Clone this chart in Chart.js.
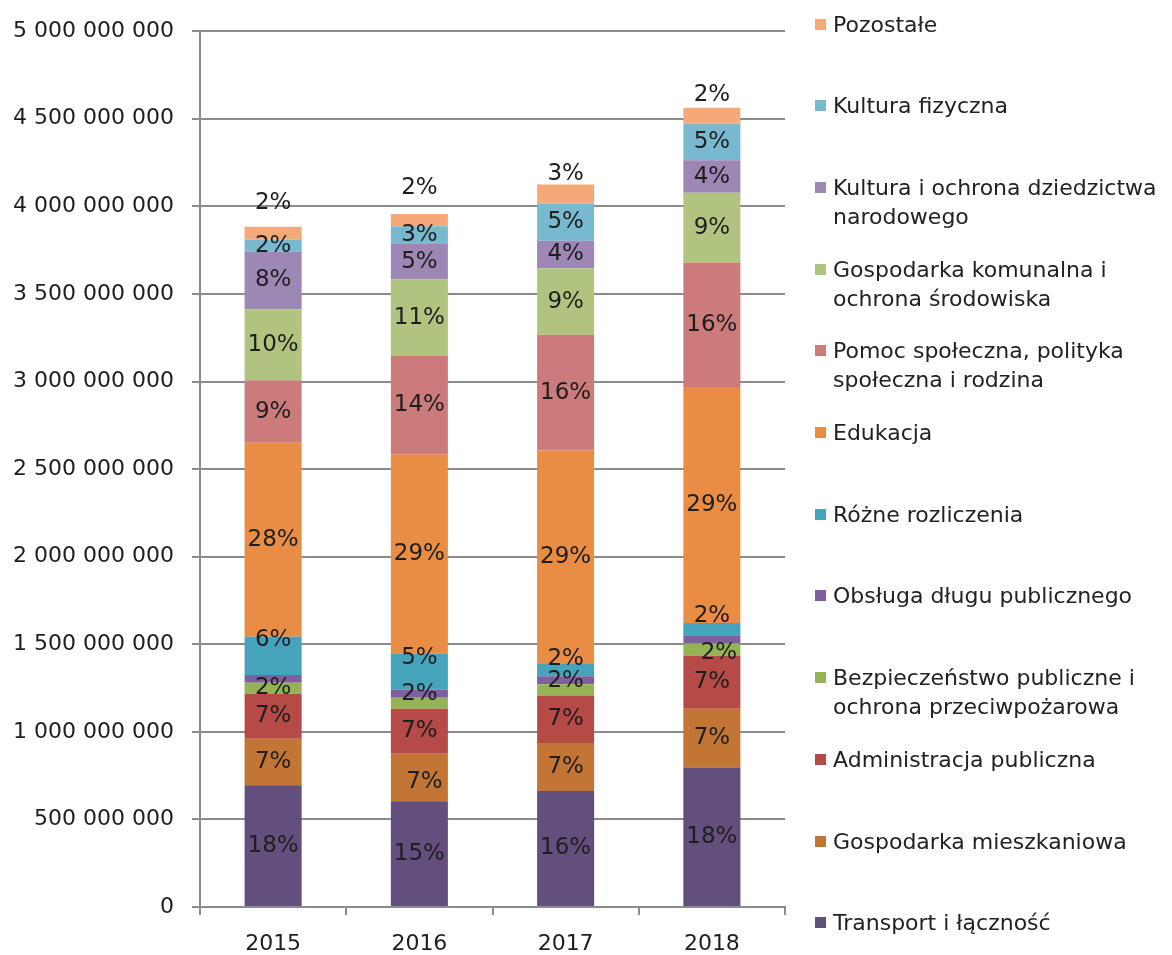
<!DOCTYPE html>
<html>
<head>
<meta charset="utf-8">
<script src="https://cdn.jsdelivr.net/npm/chart.js@4"></script>
<style>
  body { margin: 0; background: #fff; }
  #wrap { position: relative; width: 1172px; height: 955px; }
  #legend { position: absolute; left: 0; top: 0; font-family: "DejaVu Sans", sans-serif; font-size: 22px; color: #222; }
  .item { position: absolute; left: 815px; width: 360px; line-height: 29px; }
  .box { position: absolute; left: 0; top: 9px; width: 11px; height: 11px; }
  .txt { position: absolute; left: 18px; top: 0; white-space: nowrap; }
</style>
</head>
<body>
<div id="wrap">
  <canvas id="myChartBudget" width="1172" height="955"></canvas>
  <div id="legend"></div>
</div>
<script>
// years
const years = ["2015", "2016", "2017", "2018"];

// values in mln zł (bottom -> top of the stack)
const transport = [695, 604, 662, 796];
const gospMieszkaniowa = [266, 271, 274, 336];
const administracja = [256, 257, 271, 303];
const bezpieczenstwo = [63, 63, 65, 70];
const obslugaDlugu = [45, 47, 45, 46];
const rozneRozliczenia = [218, 204, 71, 70];
const edukacja = [1107, 1139, 1218, 1348];
const pomocSpoleczna = [357, 560, 661, 710];
const gospKomunalna = [406, 437, 379, 398];
const kultura = [328, 203, 158, 186];
const kulturaFizyczna = [70, 101, 213, 209];
const pozostale = [73, 70, 108, 91];

// percentage labels as printed on the bars (null = no label)
const pctTransport = ["18%", "15%", "16%", "18%"];
const pctGospMieszkaniowa = ["7%", "7%", "7%", "7%"];
const pctAdministracja = ["7%", "7%", "7%", "7%"];
const pctBezpieczenstwo = ["2%", "2%", "2%", "2%"];
const pctObslugaDlugu = [null, null, null, null];
const pctRozne = ["6%", "5%", "2%", "2%"];
const pctEdukacja = ["28%", "29%", "29%", "29%"];
const pctPomoc = ["9%", "14%", "16%", "16%"];
const pctGospKomunalna = ["10%", "11%", "9%", "9%"];
const pctKultura = ["8%", "5%", "4%", "4%"];
const pctKulturaFizyczna = ["2%", "3%", "5%", "5%"];
const pctPozostale = ["2%", "2%", "3%", "2%"];

const seriesNames = [
  "Transport i łączność",
  "Gospodarka mieszkaniowa",
  "Administracja publiczna",
  "Bezpieczeństwo publiczne i ochrona przeciwpożarowa",
  "Obsługa długu publicznego",
  "Różne rozliczenia",
  "Edukacja",
  "Pomoc społeczna, polityka społeczna i rodzina",
  "Gospodarka komunalna i ochrona środowiska",
  "Kultura i ochrona dziedzictwa narodowego",
  "Kultura fizyczna",
  "Pozostałe",
];
// how the legend wraps the long names
const legendLines = [
  ["Transport i łączność"],
  ["Gospodarka mieszkaniowa"],
  ["Administracja publiczna"],
  ["Bezpieczeństwo publiczne i", "ochrona przeciwpożarowa"],
  ["Obsługa długu publicznego"],
  ["Różne rozliczenia"],
  ["Edukacja"],
  ["Pomoc społeczna, polityka", "społeczna i rodzina"],
  ["Gospodarka komunalna i", "ochrona środowiska"],
  ["Kultura i ochrona dziedzictwa", "narodowego"],
  ["Kultura fizyczna"],
  ["Pozostałe"],
];
const seriesValues = [transport, gospMieszkaniowa, administracja, bezpieczenstwo, obslugaDlugu,
  rozneRozliczenia, edukacja, pomocSpoleczna, gospKomunalna, kultura, kulturaFizyczna, pozostale];
const seriesPct = [pctTransport, pctGospMieszkaniowa, pctAdministracja, pctBezpieczenstwo, pctObslugaDlugu,
  pctRozne, pctEdukacja, pctPomoc, pctGospKomunalna, pctKultura, pctKulturaFizyczna, pctPozostale];
const colors = ["#634f7d", "#c27535", "#b64a47", "#93b354", "#7e5fa0", "#46a3bc",
  "#e98c44", "#cb7b7a", "#b0c47f", "#9c87b5", "#78b9d0", "#f6a978"];

// label nudges where excel moved the labels off-centre: "series-year": [dx, dy]
const labelShift = {
  "1-1": [5, 5],
  "3-1": [0, -9], "3-2": [0, -9], "3-3": [7, 4],
  "5-0": [0, -16], "5-1": [0, -14], "5-2": [0, -11], "5-3": [0, -13],
  "11-0": [0, -30], "11-1": [0, -32], "11-2": [0, -20], "11-3": [0, -21],
};

const datasets = seriesNames.map((name, i) => {
  return {
    label: name,
    data: seriesValues[i].map((v) => v * 1000000),
    backgroundColor: colors[i],
    borderWidth: 0,
    barPercentage: 0.39,
    categoryPercentage: 1.0,
    pct: seriesPct[i],
  };
});

const pctLabels = {
  id: "pctLabels",
  afterDatasetsDraw(chart) {
    const ctx = chart.ctx;
    ctx.save();
    ctx.font = '23px "DejaVu Sans"';
    ctx.fillStyle = "#1e1e1e";
    ctx.textAlign = "center";
    ctx.textBaseline = "middle";
    chart.data.datasets.forEach((ds, i) => {
      const meta = chart.getDatasetMeta(i);
      meta.data.forEach((bar, j) => {
        const txt = ds.pct[j];
        if (!txt) return;
        const s = labelShift[i + "-" + j] || [0, 0];
        ctx.fillText(txt, bar.x + s[0], (bar.y + bar.base) / 2 + s[1]);
      });
    });
    ctx.restore();
  },
};

const gridColor = "#8c8c8c";
const ctx = document.getElementById("myChartBudget").getContext("2d");
const myChart = new Chart(ctx, {
  type: "bar",
  data: {
    labels: years,
    datasets: datasets,
  },
  options: {
    responsive: false,
    animation: false,
    layout: {
      padding: { top: 29, right: 387, bottom: 0, left: 0 },
    },
    plugins: {
      legend: { display: false },
      tooltip: { enabled: false },
    },
    scales: {
      x: {
        stacked: true,
        afterFit: (scale) => { scale.height = 48; },
        grid: {
          display: true,
          drawOnChartArea: false,
          drawTicks: true,
          tickLength: 8,
          color: gridColor,
          lineWidth: 2,
        },
        border: { color: gridColor, width: 2 },
        ticks: {
          color: "#1e1e1e",
          padding: 16,
          font: { family: "DejaVu Sans", size: 22 },
        },
      },
      y: {
        stacked: true,
        min: 0,
        max: 5000000000,
        afterFit: (scale) => { scale.width = 200; },
        grid: {
          color: gridColor,
          lineWidth: 2,
          tickLength: 8,
        },
        border: { color: gridColor, width: 2 },
        ticks: {
          stepSize: 500000000,
          color: "#1e1e1e",
          padding: 18,
          font: { family: "DejaVu Sans", size: 22 },
          callback: (value) => value.toString().replace(/\B(?=(\d{3})+(?!\d))/g, " "),
        },
      },
    },
  },
  plugins: [pctLabels],
});

// legend drawn in html, top item = last series
const legend = document.getElementById("legend");
for (let k = 0; k < seriesNames.length; k++) {
  const i = seriesNames.length - 1 - k;
  const item = document.createElement("div");
  item.className = "item";
  item.style.top = (24 + 81.7 * k - 14.5) + "px";
  const box = document.createElement("div");
  box.className = "box";
  box.style.background = colors[i];
  const txt = document.createElement("div");
  txt.className = "txt";
  txt.innerHTML = legendLines[i].join("<br>");
  item.appendChild(box);
  item.appendChild(txt);
  legend.appendChild(item);
}
</script>
</body>
</html>
